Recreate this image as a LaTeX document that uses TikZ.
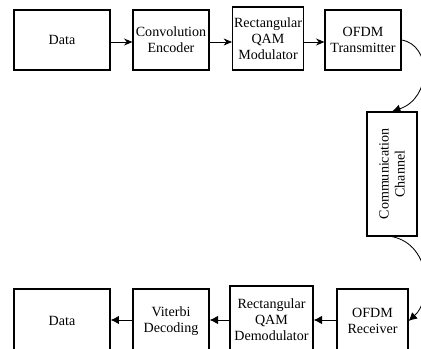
\documentclass[tikz,border=0pt]{standalone}
\usepackage{fontspec}
\setmainfont{Liberation Serif}
\usetikzlibrary{arrows.meta}

\begin{document}
\begin{tikzpicture}[x=0.25mm,y=-0.25mm,
    block/.style={draw,line width=0.8pt,align=center,inner sep=1pt,font=\fontsize{10}{11.5}\selectfont},
    txarrow/.style={-{Stealth[length=6pt,width=5pt]},line width=0.6pt},
    rxarrow/.style={-{Latex[length=6pt,width=6pt]},line width=0.6pt}]
				\clip (0,0) rectangle (421,348);
				
				% Transmitter chain
				\node[block,minimum width=96*0.25mm,minimum height=60*0.25mm] (data1) at (62,40) {Data};
				\node[block,minimum width=76*0.25mm,minimum height=60*0.25mm] (enc) at (171,40) {Convolution\\Encoder};
				\node[block,minimum width=70*0.25mm,minimum height=63*0.25mm] (mod) at (268,38.5) {Rectangular\\QAM\\Modulator};
				\node[block,minimum width=76*0.25mm,minimum height=60*0.25mm] (tx) at (363,40) {OFDM\\Transmitter};
				\draw[txarrow] (data1.east |- 0,42) -- (enc.west |- 0,42);
				\draw[txarrow] (enc.east |- 0,42) -- (mod.west |- 0,42);
				\draw[txarrow] (mod.east |- 0,42) -- (tx.west |- 0,42);
				
				% Channel
				\node[block,minimum width=50*0.25mm,minimum height=124*0.25mm] (chan) at (392,174) {};
				\node[rotate=90,align=center,font=\fontsize{10}{11.5}\selectfont] (chantext) at (chan.center) {Communication\\Channel};
				\draw[rxarrow] (tx.east) .. controls (432,45) and (432,98) .. (chan.north);
				
				% Receiver chain (boxes run past the lower edge)
				\node[block,minimum width=71*0.25mm,minimum height=64*0.25mm] (rx) at (372.5,321) {OFDM\\Receiver};
				\node[block,minimum width=83*0.25mm,minimum height=68*0.25mm] (demod) at (271.5,320) {Rectangular\\QAM\\Demodulator};
				\node[block,minimum width=76*0.25mm,minimum height=64*0.25mm] (dec) at (171,321) {Viterbi\\Decoding};
				\node[block,minimum width=96*0.25mm,minimum height=64*0.25mm] (data2) at (62,321) {Data};
				\draw[rxarrow] (chan.south) .. controls (432,245) and (432,300) .. (rx.east);
				\draw[rxarrow] (rx.west |- 0,320) -- (demod.east |- 0,320);
				\draw[rxarrow] (demod.west |- 0,320) -- (dec.east |- 0,320);
				\draw[rxarrow] (dec.west |- 0,320) -- (data2.east |- 0,320);
			\end{tikzpicture}
\end{document}
